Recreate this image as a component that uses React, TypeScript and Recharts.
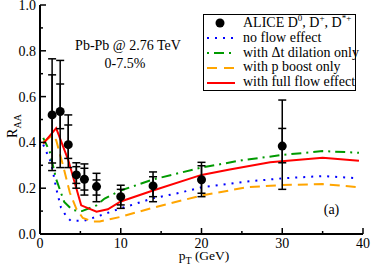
import React from 'react';
import { ComposedChart, Line, Scatter, XAxis, YAxis, ErrorBar } from 'recharts';

const FONT = '"Liberation Serif", "Times New Roman", Times, serif';

// ALICE D0, D+, D*+ data (0-7.5%)
const alicePt = [1.5, 2.5, 3.5, 4.5, 5.5, 7, 10, 14, 20, 30];
const aliceRaa = [0.52, 0.535, 0.39, 0.258, 0.239, 0.207, 0.163, 0.21, 0.237, 0.384];
const aliceOuterHigh = [0.765, 0.758, 0.52, 0.311, 0.306, 0.265, 0.213, 0.271, 0.313, 0.585];
const aliceInnerHigh = [0.695, 0.655, 0.476, 0.294, 0.287, 0.236, 0.195, 0.25, 0.298, 0.461];
const aliceInnerLow = [0.31, 0.46, 0.33, 0.221, 0.192, 0.17, 0.127, 0.163, 0.178, 0.311];
const aliceOuterLow = [0.277, 0.29, 0.29, 0.2, 0.17, 0.141, 0.112, 0.141, 0.163, 0.195];

// no flow effect
const noFlowPt = [0.4, 1.4, 2, 2.6, 3.3, 3.8, 5.5, 7.4, 10, 14, 17.3, 20, 25.6, 30, 35, 39.5];
const noFlowRaa = [0.39, 0.31, 0.2, 0.115, 0.075, 0.058, 0.058, 0.08, 0.112, 0.156, 0.18, 0.204, 0.229, 0.243, 0.253, 0.243];

// with Δt dilation only
const dilationPt = [0.4, 1.2, 2, 3, 4, 5.2, 7, 8, 10, 14, 20, 25, 30, 35, 39.5];
const dilationRaa = [0.42, 0.36, 0.24, 0.14, 0.105, 0.1, 0.125, 0.155, 0.19, 0.238, 0.29, 0.322, 0.345, 0.362, 0.355];

// with p boost only
const boostPt = [0.4, 1.5, 2, 2.85, 3.7, 4.5, 5.3, 6.6, 7.4, 10, 14, 20, 25.6, 30, 35, 39.5];
const boostRaa = [0.4, 0.43, 0.41, 0.3, 0.18, 0.11, 0.07, 0.054, 0.055, 0.075, 0.115, 0.168, 0.204, 0.214, 0.218, 0.204];

// with full flow effect
const fullPt = [0.4, 2, 3.5, 5.1, 7, 8.4, 10, 14, 20, 23.5, 28.5, 35, 39.5];
const fullRaa = [0.395, 0.462, 0.323, 0.125, 0.097, 0.108, 0.142, 0.19, 0.258, 0.282, 0.313, 0.333, 0.32];

const xTicks = [0, 5, 10, 15, 20, 25, 30, 35, 40];
const yTicks = [0, 0.1, 0.2, 0.3, 0.4, 0.5, 0.6, 0.7, 0.8, 0.9, 1.0];

const aliceData = alicePt.map((x, i) => ({
  x,
  y: aliceRaa[i],
  errOuter: [aliceRaa[i] - aliceOuterLow[i], aliceOuterHigh[i] - aliceRaa[i]],
  errInner: [aliceRaa[i] - aliceInnerLow[i], aliceInnerHigh[i] - aliceRaa[i]],
}));
const toSeries = (xs: number[], ys: number[]) => xs.map((x, i) => ({ x, y: ys[i] }));
const noFlowData = toSeries(noFlowPt, noFlowRaa);
const dilationData = toSeries(dilationPt, dilationRaa);
const boostData = toSeries(boostPt, boostRaa);
const fullData = toSeries(fullPt, fullRaa);

const isMajorX = (v: number) => Math.round(v) % 10 === 0;
const isMajorY = (v: number) => Math.round(v * 10) % 2 === 0;

const BottomTick = (p: any) => {
  const v = p.payload.value;
  const major = isMajorX(v);
  return (
    <g>
      <line x1={p.x} x2={p.x} y1={p.y} y2={p.y - (major ? 6 : 3)} stroke="#000" strokeWidth={1.5} />
      {major && (
        <text x={p.x} y={p.y + 14} textAnchor="middle" fontSize={14} fontFamily={FONT} fill="#000">
          {v}
        </text>
      )}
    </g>
  );
};
const TopTick = (p: any) => {
  const major = isMajorX(p.payload.value);
  return <line x1={p.x} x2={p.x} y1={p.y} y2={p.y + (major ? 6 : 3)} stroke="#000" strokeWidth={1.5} />;
};
const LeftTick = (p: any) => {
  const v = p.payload.value;
  const major = isMajorY(v);
  return (
    <g>
      <line x1={p.x} x2={p.x + (major ? 6 : 3)} y1={p.y} y2={p.y} stroke="#000" strokeWidth={1.5} />
      {major && (
        <text x={p.x - 4} y={p.y + 5} textAnchor="end" fontSize={14} fontFamily={FONT} fill="#000">
          {v.toFixed(1)}
        </text>
      )}
    </g>
  );
};
const RightTick = (p: any) => {
  const major = isMajorY(p.payload.value);
  return <line x1={p.x} x2={p.x - (major ? 6 : 3)} y1={p.y} y2={p.y} stroke="#000" strokeWidth={1.5} />;
};

const Dot = (p: any) => <circle cx={p.cx} cy={p.cy} r={4.5} fill="#000" />;

const legendRows = [
  { key: 'alice', kind: 'dot' },
  { key: 'noflow', kind: 'line', color: '#0000ff', dash: '2 6', label: 'no flow effect' },
  { key: 'dil', kind: 'line', color: '#009a00', dash: '2 5 10 5', label: 'with \u0394t dilation only' },
  { key: 'boost', kind: 'line', color: '#ffa500', dash: '10 7', label: 'with p boost only' },
  { key: 'full', kind: 'line', color: '#ff0000', dash: undefined, label: 'with full flow effect' },
];

const supStyle: React.CSSProperties = { fontSize: 9, verticalAlign: 'super', lineHeight: 0 };

export default function App() {
  return (
    <div style={{ position: 'absolute', left: 0, top: 0, width: 374, height: 267, background: '#fff' }}>
      <ComposedChart width={374} height={267} margin={{ top: 5, right: 11, bottom: 0, left: 0 }}>
        <XAxis
          type="number"
          dataKey="x"
          domain={[0, 40]}
          ticks={xTicks}
          interval={0}
          height={33}
          tickSize={0}
          tickMargin={0}
          tickLine={false}
          tick={BottomTick}
          axisLine={{ stroke: '#000', strokeWidth: 2 }}
          allowDataOverflow
        />
        <XAxis
          xAxisId="top"
          orientation="top"
          type="number"
          dataKey="x"
          domain={[0, 40]}
          ticks={xTicks}
          interval={0}
          height={0}
          tickSize={0}
          tickMargin={0}
          tickLine={false}
          tick={TopTick}
          axisLine={{ stroke: '#000', strokeWidth: 2 }}
          allowDataOverflow
        />
        <YAxis
          type="number"
          domain={[0, 1]}
          ticks={yTicks}
          interval={0}
          width={40}
          tickSize={0}
          tickMargin={0}
          tickLine={false}
          tick={LeftTick}
          axisLine={{ stroke: '#000', strokeWidth: 2 }}
          allowDataOverflow
        />
        <YAxis
          yAxisId="right"
          orientation="right"
          type="number"
          domain={[0, 1]}
          ticks={yTicks}
          interval={0}
          width={0}
          tickSize={0}
          tickMargin={0}
          tickLine={false}
          tick={RightTick}
          axisLine={{ stroke: '#000', strokeWidth: 2 }}
          allowDataOverflow
        />
        <Line data={noFlowData} dataKey="y" type="linear" stroke="#0000ff" strokeWidth={2} strokeDasharray="2 6" dot={false} isAnimationActive={false} />
        <Line data={dilationData} dataKey="y" type="linear" stroke="#009a00" strokeWidth={2} strokeDasharray="10 5 2 5" dot={false} isAnimationActive={false} />
        <Line data={boostData} dataKey="y" type="linear" stroke="#ffa500" strokeWidth={2} strokeDasharray="10 6" dot={false} isAnimationActive={false} />
        <Line data={fullData} dataKey="y" type="linear" stroke="#ff0000" strokeWidth={2} dot={false} isAnimationActive={false} />
        <Scatter data={aliceData} dataKey="y" shape={Dot} isAnimationActive={false}>
          <ErrorBar dataKey="errOuter" direction="y" width={4} stroke="#000" strokeWidth={1.5} isAnimationActive={false} />
          <ErrorBar dataKey="errInner" direction="y" width={4} stroke="#000" strokeWidth={1.5} isAnimationActive={false} />
        </Scatter>
      </ComposedChart>

      <svg width={374} height={267} style={{ position: 'absolute', left: 0, top: 0, pointerEvents: 'none' }}>
        <g fontFamily={FONT} fill="#000">
          <text x={128} y={50} fontSize={14} textAnchor="middle">Pb-Pb @ 2.76 TeV</text>
          <text x={125} y={68} fontSize={14} textAnchor="middle">0-7.5%</text>
          <text x={331.5} y={214} fontSize={14} textAnchor="middle">(a)</text>
          <text x={204} y={260} fontSize={13.5} textAnchor="middle">
            p<tspan fontSize={10} dy={4}>T</tspan>
            <tspan dy={-4}> (GeV)</tspan>
          </text>
          <text transform="translate(17,126) rotate(-90)" fontSize={14} textAnchor="middle">
            R<tspan fontSize={10} dy={4}>AA</tspan>
          </text>
        </g>
      </svg>

      <div
        style={{
          position: 'absolute',
          left: 203,
          top: 14,
          width: 153,
          height: 77,
          boxSizing: 'border-box',
          border: '1.5px solid #000',
          background: '#fff',
          paddingTop: 1,
          fontFamily: FONT,
          fontSize: 14,
          color: '#000',
        }}
      >
        {legendRows.map((r) => (
          <div key={r.key} style={{ display: 'flex', alignItems: 'center', height: 14.8, lineHeight: '14.8px', whiteSpace: 'nowrap' }}>
            <svg width={28} height={10} style={{ marginLeft: 2.5, marginRight: 8.5, flex: 'none' }}>
              {r.kind === 'dot' ? (
                <circle cx={13} cy={5} r={4.5} fill="#000" />
              ) : (
                <line x1={0} x2={28} y1={5} y2={5} stroke={r.color} strokeWidth={2} strokeDasharray={r.dash} />
              )}
            </svg>
            {r.kind === 'dot' ? (
              <span>
                ALICE D<span style={supStyle}>0</span>, D<span style={supStyle}>+</span>, D<span style={supStyle}>*+</span>
              </span>
            ) : (
              <span>{r.label}</span>
            )}
          </div>
        ))}
      </div>
    </div>
  );
}
